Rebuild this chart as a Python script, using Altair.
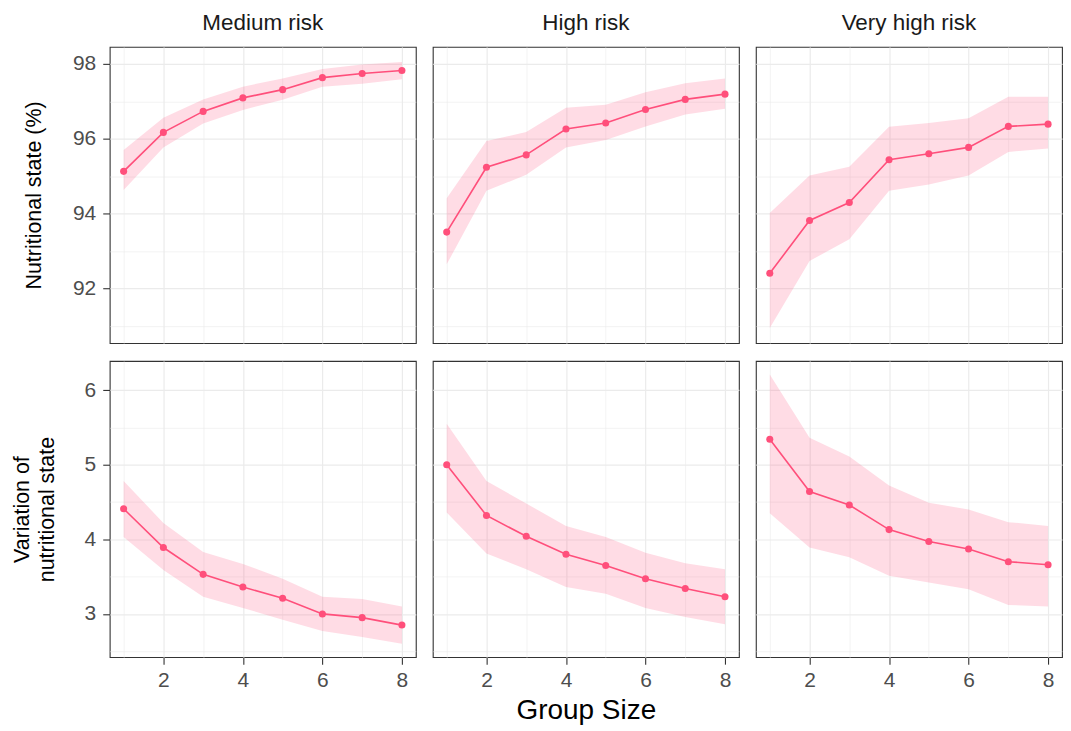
import altair as alt
import pandas as pd

group_size = [1, 2, 3, 4, 5, 6, 7, 8]
risk_levels = ["Medium risk", "High risk", "Very high risk"]

# Nutritional state (%) - mean, upper and lower band
med_state_mean = [95.13, 96.17, 96.73, 97.09, 97.31, 97.63, 97.74, 97.82]
med_state_hi = [95.70, 96.56, 97.05, 97.39, 97.61, 97.86, 97.98, 98.05]
med_state_lo = [94.63, 95.77, 96.41, 96.77, 97.04, 97.39, 97.47, 97.59]

high_state_mean = [93.51, 95.24, 95.57, 96.26, 96.42, 96.78, 97.05, 97.19]
high_state_hi = [94.41, 95.94, 96.18, 96.83, 96.91, 97.24, 97.48, 97.61]
high_state_lo = [92.65, 94.61, 95.04, 95.77, 95.97, 96.33, 96.65, 96.80]

vhigh_state_mean = [92.41, 93.82, 94.30, 95.44, 95.60, 95.77, 96.33, 96.39]
vhigh_state_hi = [94.02, 95.02, 95.25, 96.32, 96.42, 96.55, 97.12, 97.12]
vhigh_state_lo = [90.95, 92.74, 93.32, 94.61, 94.78, 95.02, 95.65, 95.74]

# Variation of nutritional state - mean, upper and lower band
med_var_mean = [4.41, 3.89, 3.53, 3.36, 3.21, 3.00, 2.95, 2.85]
med_var_hi = [4.78, 4.22, 3.83, 3.67, 3.47, 3.23, 3.20, 3.10]
med_var_lo = [4.03, 3.59, 3.23, 3.08, 2.92, 2.77, 2.69, 2.60]

high_var_mean = [5.00, 4.32, 4.04, 3.80, 3.65, 3.47, 3.34, 3.23]
high_var_hi = [5.55, 4.78, 4.48, 4.18, 4.03, 3.82, 3.68, 3.60]
high_var_lo = [4.36, 3.81, 3.60, 3.36, 3.27, 3.08, 2.96, 2.86]

vhigh_var_mean = [5.34, 4.64, 4.46, 4.13, 3.97, 3.87, 3.70, 3.66]
vhigh_var_hi = [6.21, 5.36, 5.11, 4.72, 4.49, 4.40, 4.23, 4.18]
vhigh_var_lo = [4.35, 3.89, 3.76, 3.51, 3.42, 3.33, 3.12, 3.10]

state_ticks = [91, 92, 93, 94, 95, 96, 97, 98]
var_ticks = [2.5, 3, 3.5, 4, 4.5, 5, 5.5, 6]
x_ticks = [1, 2, 3, 4, 5, 6, 7, 8]

LINE_COLOR = "#FF4F7B"
FONT = "Liberation Sans"
W, H = 307, 297

rows = [
    ("Nutritional state (%)", -75, [90.55, 98.45], state_ticks, "datum.value % 2 === 0",
     [(med_state_mean, med_state_lo, med_state_hi),
      (high_state_mean, high_state_lo, high_state_hi),
      (vhigh_state_mean, vhigh_state_lo, vhigh_state_hi)]),
    (["Variation of", "nutritional state"], -87, [2.42, 6.39], var_ticks, "datum.value % 1 === 0",
     [(med_var_mean, med_var_lo, med_var_hi),
      (high_var_mean, high_var_lo, high_var_hi),
      (vhigh_var_mean, vhigh_var_lo, vhigh_var_hi)]),
]

x_major = "datum.value % 2 === 0"
panels = []
for r, (ytitle, ytitle_x, ydom, yvals, ymajor, series) in enumerate(rows):
    for c, (mean, lo, hi) in enumerate(series):
        df = pd.DataFrame({"g": group_size, "mean": mean, "lo": lo, "hi": hi})
        left = c == 0
        bottom = r == 1
        x_axis = alt.Axis(
            values=x_ticks,
            labels=bottom,
            ticks=bottom,
            format="d",
            labelExpr="datum.value % 2 === 0 ? datum.label : ''",
            tickColor={"condition": {"test": x_major, "value": "#333333"}, "value": "transparent"},
            gridWidth={"condition": {"test": x_major, "value": 1.2}, "value": 0.6},
            gridColor="#EBEBEB",
            domain=False,
            tickSize=7,
            tickWidth=1.1,
            labelPadding=5,
            labelFontSize=21,
            labelColor="#4D4D4D",
            labelFont=FONT,
            title="Group Size" if (bottom and c == 1) else None,
            titleFontSize=28,
            titleFont=FONT,
            titleFontWeight="normal",
            titleColor="#000000",
            titlePadding=6,
        )
        y_axis = alt.Axis(
            values=yvals,
            labels=left,
            ticks=left,
            format="~g",
            labelExpr=f"{ymajor} ? datum.label : ''",
            tickColor={"condition": {"test": ymajor, "value": "#333333"}, "value": "transparent"},
            gridWidth={"condition": {"test": ymajor, "value": 1.2}, "value": 0.6},
            gridColor="#EBEBEB",
            domain=False,
            tickSize=7,
            tickWidth=1.1,
            labelPadding=7,
            labelFontSize=21,
            labelColor="#4D4D4D",
            labelFont=FONT,
            title=ytitle if left else None,
            titleFontSize=21.5,
            titleFont=FONT,
            titleFontWeight="normal",
            titleColor="#000000",
            titleX=ytitle_x,
            titleBaseline="middle",
            titleLineHeight=25,
        )
        base = alt.Chart(df).encode(
            x=alt.X("g:Q", scale=alt.Scale(domain=[0.65, 8.35], nice=False, zero=False), axis=x_axis)
        )
        band = base.mark_area(color=LINE_COLOR, opacity=0.2).encode(
            y=alt.Y("lo:Q", scale=alt.Scale(domain=ydom, nice=False, zero=False), axis=y_axis),
            y2="hi:Q",
        )
        line = base.mark_line(color=LINE_COLOR, strokeWidth=1.6).encode(y="mean:Q")
        pts = base.mark_point(color=LINE_COLOR, filled=True, size=50, opacity=1).encode(y="mean:Q")
        layer = alt.layer(band, line, pts).properties(width=W, height=H)
        if r == 0:
            layer = layer.properties(
                title=alt.TitleParams(
                    risk_levels[c], fontSize=22.5, fontWeight="normal", font=FONT,
                    color="#1A1A1A", anchor="middle", offset=12,
                )
            )
        panels.append(layer)

chart = alt.concat(*panels, columns=3, spacing={"row": 16, "column": 15}).properties(
    align="each",
    padding={"left": 3, "top": 2, "right": 0, "bottom": 0},
).configure_view(stroke="#333333", strokeWidth=1.1)

chart.save("out.html", embed_options={"renderer": "svg", "actions": False})
